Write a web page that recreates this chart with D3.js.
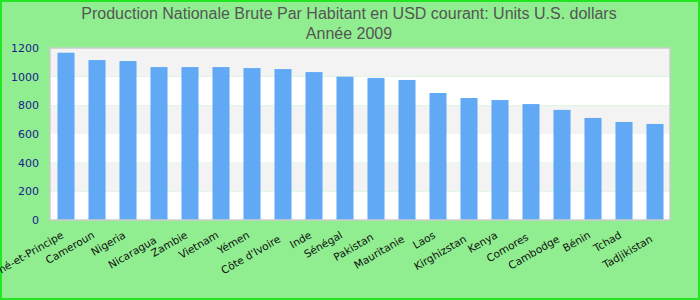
<!DOCTYPE html>
<html>
<head>
<meta charset="utf-8">
<script src="https://cdn.jsdelivr.net/npm/d3@7"></script>
<style>
  body { margin: 0; background: #fff; }
  svg { display: block; }
</style>
</head>
<body>
<svg id="chart" width="700" height="300"></svg>
<script>
let countries = ["São Tomé-et-Principe", "Cameroun", "Nigeria", "Nicaragua", "Zambie", "Vietnam", "Yémen",
  "Côte d'Ivoire", "Inde", "Sénégal", "Pakistan", "Mauritanie", "Laos", "Kirghizstan", "Kenya",
  "Comores", "Cambodge", "Bénin", "Tchad", "Tadjikistan"]
let gnp = [1167, 1116, 1109, 1067, 1067, 1067, 1060, 1053, 1032, 1000, 991, 977, 886, 851, 837,
  809, 768, 712, 684, 670]
let yTicks = [0, 200, 400, 600, 800, 1000, 1200]
// extra downward shift of each label, as the original staggers them
let labelDrop = [0, 0, 0, 5, 0, 0, 0, 4, 0, 0, 2, 4, 0, 4, 0, 2, 4, 0, 0, 4]

let W = 700, H = 300
let m = {left: 50, right: 30, top: 48, bottom: 80}
let svg = d3.select("#chart")

svg.append("rect")
  .attr("x", 1).attr("y", 1).attr("width", W - 2).attr("height", H - 2)
  .attr("fill", "#90ee90").attr("stroke", "#22e622").attr("stroke-width", 2)

let x = d3.scaleBand().domain(countries).range([m.left, W - m.right]).paddingInner(0.45).paddingOuter(0.225)
let y = d3.scaleLinear().domain([0, 1200]).range([H - m.bottom, m.top])

// striped plot background
let g = svg.append("g")
g.selectAll("rect.band")
  .data(yTicks.slice(0, -1)).enter()
  .append("rect")
  .attr("class", "band")
  .attr("x", m.left).attr("width", W - m.left - m.right)
  .attr("y", d => y(d + 200)).attr("height", d => y(d) - y(d + 200))
  .attr("fill", (d, i) => i % 2 ? "#f3f3f3" : "#ffffff")

g.selectAll("rect.bar")
  .data(gnp).enter()
  .append("rect")
  .attr("class", "bar")
  .attr("x", (d, i) => x(countries[i]) + 0.5)
  .attr("width", x.bandwidth())
  .attr("y", d => y(d))
  .attr("height", d => y(0) - y(d))
  .attr("fill", "#62a9f5")

g.append("rect")
  .attr("x", m.left).attr("y", m.top)
  .attr("width", W - m.left - m.right).attr("height", H - m.top - m.bottom)
  .attr("fill", "none").attr("stroke", "#cccccc").attr("stroke-width", 1.5)

// y axis labels
let yAxis = svg.append("g")
  .attr("transform", "translate(" + (m.left - 11) + ",0)")
  .call(d3.axisLeft(y).tickValues(yTicks).tickSize(0).tickPadding(0).tickFormat(d3.format("d")))
yAxis.select(".domain").remove()
yAxis.selectAll("text")
  .attr("fill", "#1a1a8c")
  .style("font-family", "DejaVu Sans, sans-serif")
  .style("font-size", "11px")

// rotated category labels
svg.append("g").selectAll("text")
  .data(countries).enter()
  .append("text")
  .attr("transform", (d, i) => "translate(" + (x(d) + x.bandwidth() / 2 - 3) + "," + (234 + labelDrop[i]) + ") rotate(-30)")
  .attr("text-anchor", "end")
  .attr("dy", "0.35em")
  .style("font-family", "DejaVu Sans, sans-serif")
  .style("font-size", "10.5px")
  .attr("fill", "#111")
  .text(d => d)

// title
let title = svg.append("text")
  .attr("x", 349).attr("text-anchor", "middle")
  .style("font-family", "Liberation Sans, sans-serif")
  .style("font-size", "16px")
  .attr("fill", "#555555")
title.append("tspan").attr("x", 349).attr("y", 19).text("Production Nationale Brute Par Habitant en USD courant: Units U.S. dollars")
title.append("tspan").attr("x", 349).attr("y", 39).text("Année 2009")
</script>
</body>
</html>
